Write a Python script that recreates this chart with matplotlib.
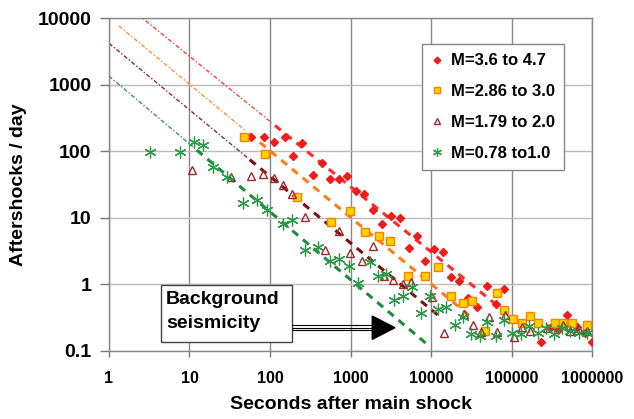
import numpy as np
import matplotlib
matplotlib.use("Agg")
import matplotlib.pyplot as plt
from matplotlib.patches import Rectangle, Polygon

plt.rcParams['font.family'] = ['Liberation Sans', 'DejaVu Sans']
plt.rcParams['font.weight'] = 'bold'
plt.rcParams['lines.scale_dashes'] = False

# ---------------- data ----------------
labels = ["M=3.6 to 4.7", "M=2.86 to 3.0", "M=1.79 to 2.0", "M=0.78 to1.0"]

red_x = [58, 84, 112, 154, 250, 193, 443, 342, 556, 720, 905, 1170, 1470, 1900, 2460,
         3190, 4120, 5330, 6700, 8420, 10900, 14100, 17700, 22300, 28800, 37300, 49600,
         64200, 80700, 232000, 301000, 378000, 489000, 651000, 818000, 1000000]
red_y = [164, 164, 138, 164, 133, 85, 67, 44, 38, 38, 42.5, 25.3, 22.8, 13.1, 8.1,
         10.6, 9.9, 3.5, 5.3, 2.24, 3.4, 3.06, 1.29, 1.12, 0.62, 0.46, 0.94,
         0.51, 0.85, 0.136, 0.22, 0.206, 0.345, 0.228, 0.185, 0.136]

orange_x = [47.5, 87, 216, 573, 986, 1510, 2260, 3100, 5180, 8420, 12200, 17700, 25000,
            32300, 46900, 66000, 80700, 104000, 135000, 170000, 213000, 347000, 436000,
            564000, 867000]
orange_y = [164, 91, 20.5, 8.65, 12.6, 6.1, 5.3, 4.5, 1.33, 1.33, 1.82, 0.67, 0.52,
            0.56, 0.2, 0.74, 0.41, 0.30, 0.26, 0.33, 0.26, 0.26, 0.26, 0.26, 0.244]

brown_x = [10.7, 33, 58, 82, 112, 145, 188, 272, 720, 482, 986, 1390, 1900, 2610, 3370,
           4490, 5650, 10300, 14500, 25700, 33200, 41800, 52500, 66000, 83000, 107000,
           135000, 170000, 276000, 436000, 533000, 670000, 867000]
brown_y = [52, 41, 42.5, 45.6, 39.7, 31, 22.8, 10.3, 6.3, 3.3, 3.0, 2.24, 3.8, 1.33, 1.16,
           1.01, 1.08, 0.64, 0.185, 0.36, 0.25, 0.19, 0.32, 0.19, 0.345, 0.16,
           0.23, 0.2, 0.22, 0.244, 0.2, 0.22, 0.2]

green_x = [3.2, 7.6, 11.4, 14.7, 19.6, 29, 46, 69, 92, 145, 188, 272, 395, 556, 720, 958,
           1240, 1750, 2200, 2760, 3470, 4490, 5810, 7510, 9720, 12200, 15400, 19900,
           25000, 31400, 40600, 49600, 64200, 80700, 101000, 131000, 165000, 213000,
           268000, 337000, 424000, 533000, 690000, 867000]
green_y = [97, 97, 138, 124, 58, 41, 16.7, 18.5, 13.1, 8.1, 9.3, 3.3, 3.6, 2.24, 2.4, 1.88,
           1.05, 2.16, 1.33, 1.43, 0.58, 0.67, 0.91, 0.37, 0.67, 0.43, 0.46, 0.244,
           0.32, 0.18, 0.167, 0.27, 0.167, 0.29, 0.185, 0.179, 0.236, 0.185,
           0.22, 0.179, 0.22, 0.2, 0.185, 0.185]

# Omori-type fit lines: rate = A * t^-p
fit_A = [25700, 10200, 4210, 1355]
fit_p = [0.98, 1.0, 1.0, 1.02]
fit_dashdot_range = [(2.3, 105), (1.33, 50), (1.0, 52), (1.0, 11)]
fit_dashed_range = [(115, 72000), (55, 33000), (56, 12600), (12.3, 9300)]

xticks = [1, 10, 100, 1000, 10000, 100000, 1000000]
xtick_labels = ["1", "10", "100", "1000", "10000", "100000", "1000000"]
yticks = [0.1, 1, 10, 100, 1000, 10000]
ytick_labels = ["0.1", "1", "10", "100", "1000", "10000"]

# ---------------- styles ----------------
line_colors = ['#FF2A2A', '#FF7A1A', '#7A1010', '#1E8A3A']
dd_colors = ['#FF4040', '#FF8C3A', '#8A2A2A', '#3A9A50']

fig = plt.figure(figsize=(6.34, 4.19), dpi=100)
ax = fig.add_axes([0.1719, 0.1623, 0.7619, 0.794])
ax.set_xscale('log')
ax.set_yscale('log')
ax.set_xlim(1, 1e6)
ax.set_ylim(0.1, 1e4)

for xv in xticks:
    ax.axvline(xv, color='#888888', lw=1.0, zorder=0)
for yv in yticks:
    ax.axhline(yv, color='#BBBBBB', lw=1.0, zorder=0)

for i in range(4):
    a, p = fit_A[i], fit_p[i]
    t = np.logspace(np.log10(fit_dashdot_range[i][0]), np.log10(fit_dashdot_range[i][1]), 100)
    ax.plot(t, a * t ** (-p), color=dd_colors[i], lw=1.0,
            linestyle=(0, (3, 1.5, 1, 1.5)), zorder=2)
    t = np.logspace(np.log10(fit_dashed_range[i][0]), np.log10(fit_dashed_range[i][1]), 100)
    ax.plot(t, a * t ** (-p), color=line_colors[i], lw=2.2,
            linestyle=(0, (5.5, 4.5)), zorder=2)

ax.plot(red_x, red_y, ls='none', marker='D', ms=4.5, color='#EE1C1C', mec='#EE1C1C',
        label=labels[0], zorder=4)
ax.plot(orange_x, orange_y, ls='none', marker='s', ms=5.2, mfc='#FFD200', mec='#FF7F00',
        mew=1.0, label=labels[1], zorder=4)
ax.plot(brown_x, brown_y, ls='none', marker='^', ms=6, mfc='none', mec='#9C2A2A',
        mew=1.0, label=labels[2], zorder=4)
ax.plot(green_x, green_y, ls='none', marker=(6, 2, 0), ms=8.5, color='#2A9A47',
        mew=0.9, label=labels[3], zorder=4)

ax.set_xticks(xticks)
ax.set_xticklabels(xtick_labels, fontsize=11.5, fontweight='bold')
ax.set_yticks(yticks)
ax.set_yticklabels(ytick_labels, fontsize=14, fontweight='bold')
ax.minorticks_off()
ax.tick_params(axis='both', which='major', direction='out', color='#777777', width=1)
ax.tick_params(axis='x', length=4.5, pad=10)
ax.tick_params(axis='y', length=6.5, pad=6)
for s in ax.spines.values():
    s.set_color('#888888')
    s.set_linewidth(1.0)

ax.set_xlabel("Seconds after main shock", fontsize=14, fontweight='bold', labelpad=7)
ax.set_ylabel("Aftershocks / day", fontsize=14, fontweight='bold', labelpad=8)

leg = ax.legend(loc='upper left', bbox_to_anchor=(0.649, 0.922), frameon=True,
                fancybox=False, edgecolor='#888888', framealpha=1,
                prop={'family': 'Liberation Sans', 'weight': 'bold', 'size': 12},
                handlelength=0.6, handletextpad=0.55, borderpad=0.55, labelspacing=0.95,
                borderaxespad=0, markerscale=0.75)
leg.get_frame().set_linewidth(1.0)
leg.set_zorder(6)

# Background seismicity box and arrow
ax.add_patch(Rectangle((0.108, 0.027), 0.271, 0.171, transform=ax.transAxes,
                       facecolor='white', edgecolor='#444444', lw=1.0, zorder=5))
ax.text(0.118, 0.156, "Background", transform=ax.transAxes, fontsize=14,
        fontweight='bold', va='center', ha='left', zorder=6)
ax.text(0.118, 0.084, "seismicity", transform=ax.transAxes, fontsize=14,
        fontweight='bold', va='center', ha='left', zorder=6)
for yy in (0.0775, 0.070, 0.0625):
    ax.plot([0.379, 0.55], [yy, yy], transform=ax.transAxes, color='black', lw=0.8,
            zorder=5, solid_capstyle='butt')
ax.add_patch(Polygon([[0.545, 0.105], [0.592, 0.070], [0.545, 0.035]], closed=True,
                     transform=ax.transAxes, facecolor='black', edgecolor='black',
                     zorder=5))

fig.savefig("out.png", dpi=100)
